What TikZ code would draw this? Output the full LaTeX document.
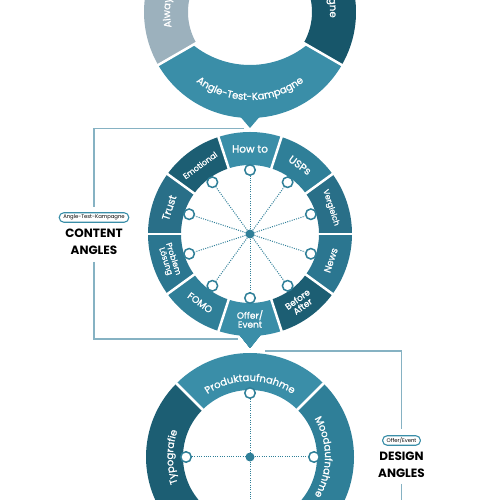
\documentclass[tikz,border=0pt]{standalone}
\usepackage{fontspec}
\setmainfont{Poppins}
\newfontfamily\segfont{Poppins}[FakeBold=1.1]
\usetikzlibrary{decorations.text}
\definecolor{cLight}{HTML}{3A8EA8}
\definecolor{cMid}{HTML}{2F7F98}
\definecolor{cMidB}{HTML}{2B7690}
\definecolor{cMidC}{HTML}{296F88}
\definecolor{cDark}{HTML}{1C5E73}
\definecolor{cTopDark}{HTML}{17566A}
\definecolor{cGrey}{HTML}{9CB1BD}
\definecolor{cLine}{HTML}{86B2C3}
\definecolor{cDot}{HTML}{2F7F98}
\newcommand\ringseg[6]{\fill[#6,shift={#1}] (#2:#5) arc[start angle=#2,end angle=#3,radius=#5] -- (#3:#4) arc[start angle=#3,end angle=#2,radius=#4] -- cycle;}
\begin{document}
\begin{tikzpicture}[x=1pt,y=1pt,
  conn/.style={draw=cLine, line width=1.1pt},
  dotline/.style={draw=cDot, line width=1pt, dash pattern=on 1pt off 1.3pt},
  smalldot/.style={circle, draw=cDot, fill=white, line width=1.5pt, minimum size=10.5pt, inner sep=0pt},
  hub/.style={circle, fill=cDot, minimum size=9pt, inner sep=0pt},
  seglabel/.style={text=white, align=center, inner sep=0pt},
  pill/.style={draw=cLight, line width=1.1pt, rounded corners=4.5pt, fill=white, inner xsep=4pt, inner ysep=1.5pt, font=\fontsize{5.3}{6}\selectfont, minimum height=9.5pt},
  heading/.style={font=\bfseries\fontsize{12}{17}\selectfont, align=center, text=black, inner sep=0pt},
  gap/.style={draw=white, line width=2.5pt}
]
\useasboundingbox (0,0) rectangle (500,500);
\clip (0,0) rectangle (500,500);

% ---------- top ring ----------
\coordinate (T) at (250,488);
\ringseg{(T)}{90}{210}{62pt}{106pt}{cGrey}
\ringseg{(T)}{-30}{90}{62pt}{106pt}{cTopDark}
\begin{scope}
\clip (T) -- ++(210:130pt) arc[start angle=210,end angle=330,radius=130pt] -- cycle;
\fill[cLight, even odd rule] (T) circle[radius=106pt] (250,526) circle[radius=91pt];
\end{scope}
\fill[cLight] (238,386) -- (262,386) -- (250,372) -- cycle;
\foreach \a in {90,210,330} \draw[gap] ([shift={(T)}]\a:50pt) -- ([shift={(T)}]\a:112pt);
\path[decorate, decoration={text along path, text align=center,
  text={|\segfont\fontsize{10}{10}\selectfont\color{white}|Angle-Test-Kampagne}}]
  ([shift={(T)}]205:88pt) arc[start angle=205,end angle=335,radius=88pt];
\path[decorate, decoration={text along path, text align=left,
  text={|\segfont\fontsize{10}{10}\selectfont\color{white}|Always-On}}]
  ([shift={(T)}]191:80pt) arc[start angle=191,end angle=110,radius=80pt];
\path[decorate, decoration={text along path, text align=right,
  text={|\segfont\fontsize{10}{10}\selectfont\color{white}|Kampagne}}]
  ([shift={(T)}]70:80pt) arc[start angle=70,end angle=-4,radius=80pt];

% ---------- middle ring ----------
\coordinate (M) at (250,266);
\foreach \a/\c in {72/cLight, 36/cMid, 0/cMidC, -36/cMidB, -72/cDark, -108/cLight, -144/cMid, 180/cMidB, 144/cMidC, 108/cDark}
  \ringseg{(M)}{\a}{\a+36}{69pt}{102pt}{\c}
\fill[cLight] (238,167) -- (262,167) -- (250,152) -- cycle;
\foreach \a in {0,36,...,324} \draw[gap] ([shift={(M)}]\a:58pt) -- ([shift={(M)}]\a:108pt);

\node[hub] (hubM) at (M) {};
\foreach \n/\a in {how/90, usp/54, ver/18, new/-18, bef/-54, off/-90, fom/-126, pro/-162, tru/162, emo/126}
  \node[smalldot] (d\n) at ([shift={(M)}]\a:64pt) {};
\foreach \n in {how,usp,ver,new,bef,off,fom,pro,tru,emo}
  \draw[dotline] (hubM) -- (d\n);

\node[seglabel, font=\segfont\fontsize{10.5}{10.5}\selectfont] (lhow) at ([shift={(M)}]90:85pt) {How to};
\node[seglabel, font=\segfont\fontsize{10.5}{10.5}\selectfont, rotate=-36] (lusp) at ([shift={(M)}]54:85pt) {USPs};
\node[seglabel, font=\segfont\fontsize{8}{8}\selectfont, rotate=-72] (lver) at ([shift={(M)}]18:85pt) {Vergleich};
\node[seglabel, font=\segfont\fontsize{9.5}{9.5}\selectfont, rotate=72] (lnew) at ([shift={(M)}]-18:85pt) {News};
\node[seglabel, font=\segfont\fontsize{8.8}{8.8}\selectfont, rotate=36] (lbef) at ([shift={(M)}]-54:85pt) {Before\\After};
\node[seglabel, font=\segfont\fontsize{9}{9}\selectfont] (loff) at ([shift={(M)}]-90:85pt) {Offer/\\Event};
\node[seglabel, font=\segfont\fontsize{9.5}{9.5}\selectfont, rotate=-36] (lfom) at ([shift={(M)}]-126:85pt) {FOMO};
\node[seglabel, font=\segfont\fontsize{8}{8}\selectfont, rotate=-72] (lpro) at ([shift={(M)}]-162:85pt) {Problem\\Lösung};
\node[seglabel, font=\segfont\fontsize{10.5}{10.5}\selectfont, rotate=72] (ltru) at ([shift={(M)}]162:85pt) {Trust};
\node[seglabel, font=\segfont\fontsize{8}{8}\selectfont, rotate=36] (lemo) at ([shift={(M)}]126:85pt) {Emotional};

% ---------- bottom ring ----------
\coordinate (B) at (250,43);
\ringseg{(B)}{45}{135}{67pt}{104pt}{cLight}
\ringseg{(B)}{135}{225}{67pt}{104pt}{cDark}
\ringseg{(B)}{-45}{45}{67pt}{104pt}{cMid}
\foreach \a in {45,135,225,315} \draw[gap] ([shift={(B)}]\a:58pt) -- ([shift={(B)}]\a:110pt);
\node[hub] (hubB) at (B) {};
\node[smalldot] (bP) at ([shift={(B)}]90:64pt) {};
\node[smalldot] (bT) at ([shift={(B)}]180:64pt) {};
\node[smalldot] (bM) at ([shift={(B)}]0:64pt) {};
\coordinate (bEnd) at (250,-21);
\draw[dotline] (bP) -- (hubB);
\draw[dotline] (hubB) -- (bEnd);
\draw[dotline] (bT) -- (hubB);
\draw[dotline] (hubB) -- (bM);
\path[decorate, decoration={text along path, text align=center,
  text={|\segfont\fontsize{10}{10}\selectfont\color{white}|Produktaufnahme}}]
  ([shift={(B)}]145:76pt) arc[start angle=145,end angle=35,radius=76pt];
\path[decorate, decoration={text along path, text align=center,
  text={|\segfont\fontsize{10}{10}\selectfont\color{white}|Typografie}}]
  ([shift={(B)}]225:77pt) arc[start angle=225,end angle=135,radius=77pt];
\path[decorate, decoration={text along path, text align=center,
  text={|\segfont\fontsize{10}{10}\selectfont\color{white}|Moodaufnahme}}]
  ([shift={(B)}]45:75pt) arc[start angle=45,end angle=-45,radius=75pt];

% ---------- labels and connectors ----------
\node[pill] (pillA) at (94,282.5) {Angle-Test-Kampagne};
\node[heading] (headA) at (94,258.5) {CONTENT\\ANGLES};
\node[pill] (pillB) at (401.5,59.5) {Offer/Event};
\node[heading] (headB) at (401.5,35.5) {DESIGN\\ANGLES};

\coordinate (cA1) at (244,371.5);
\coordinate (cA2) at (94,293);
\coordinate (cA3) at (94,238);
\coordinate (cA4) at (238,161);
\coordinate (cB1) at (265,149);
\coordinate (cB2) at (401.5,71);
\coordinate (cB3) at (401.5,16);
\coordinate (cB4) at (401.5,0);
\draw[conn] (cA1) -| (cA2);
\draw[conn] (cA3) |- (cA4);
\draw[conn] (cB1) -| (cB2);
\draw[conn] (cB3) -- (cB4);
\end{tikzpicture}
\end{document}
